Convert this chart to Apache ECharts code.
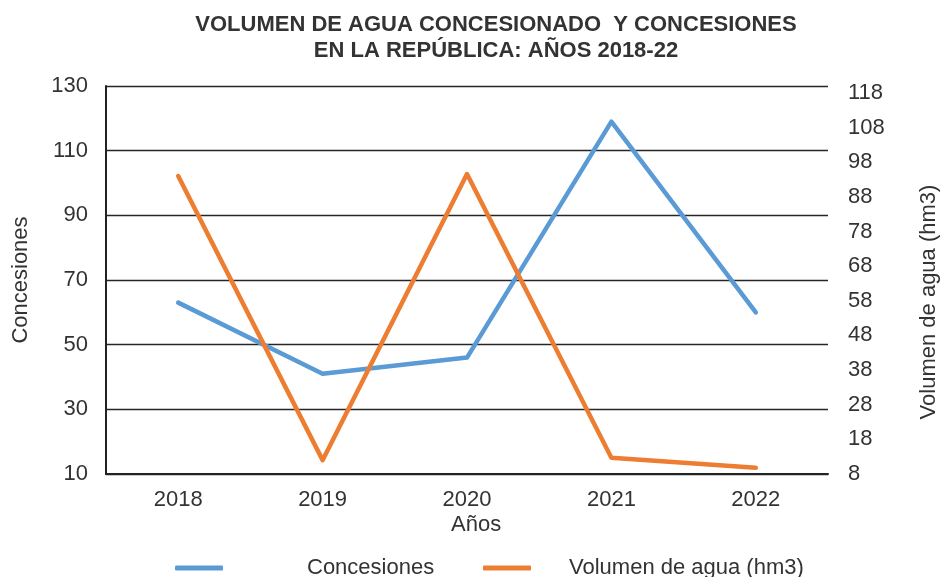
<!DOCTYPE html>
<html>
<head>
<meta charset="utf-8">
<script src="https://cdn.jsdelivr.net/npm/echarts@6/dist/echarts.min.js"></script>
<style>
  html, body { margin: 0; padding: 0; background: #fff; }
  #chart { width: 940px; height: 577px; }
</style>
</head>
<body>
<div id="chart"></div>
<script>
// Years on the category axis
const years = ['2018', '2019', '2020', '2021', '2022'];
// Number of water concessions (left axis)
const concesiones = [63, 41, 46, 119, 60];
// Granted water volume in hm3 (right axis)
const volumen = [94, 12, 94.6, 12.7, 9.8];
// Tick labels for both value axes
const leftTicks = [10, 30, 50, 70, 90, 110, 130];
const rightTicks = [8, 18, 28, 38, 48, 58, 68, 78, 88, 98, 108, 118];

const FONT = '"Liberation Sans", Arial, sans-serif';
const TXT = '#333333';
const FS = 22;

const chart = echarts.init(document.getElementById('chart'), null, { renderer: 'canvas' });

chart.setOption({
  animation: false,
  backgroundColor: '#ffffff',
  title: {
    text: 'VOLUMEN DE AGUA CONCESIONADO  Y CONCESIONES\nEN LA REPÚBLICA: AÑOS 2018-22',
    left: 491,
    top: 7,
    textAlign: 'center',
    textStyle: {
      fontFamily: FONT,
      fontSize: 22,
      fontWeight: 'bold',
      color: TXT,
      lineHeight: 26
    }
  },
  legend: [
    {
      left: 175,
      top: 557,
      padding: 0,
      itemWidth: 48,
      itemHeight: 5,
      itemGap: 0,
      icon: 'roundRect',
      data: ['Concesiones'],
      textStyle: { fontFamily: FONT, fontSize: FS, color: TXT, padding: [0, 0, 0, 79] }
    },
    {
      left: 483,
      top: 557,
      padding: 0,
      itemWidth: 48,
      itemHeight: 5,
      itemGap: 0,
      icon: 'roundRect',
      data: ['Volumen de agua (hm3)'],
      textStyle: { fontFamily: FONT, fontSize: FS, color: TXT, padding: [0, 0, 0, 33] }
    }
  ],
  grid: { left: 106, right: 112, top: 86, bottom: 103, containLabel: false, outerBoundsMode: 'none' },
  xAxis: {
    type: 'category',
    data: years,
    boundaryGap: true,
    axisLine: { show: true, lineStyle: { color: '#222', width: 2 } },
    axisTick: { show: false },
    axisLabel: { fontFamily: FONT, fontSize: FS, color: TXT, margin: 15 }
  },
  yAxis: [
    {
      type: 'value',
      min: 10,
      max: 130,
      name: 'Concesiones',
      nameLocation: 'middle',
      nameGap: 74,
      nameRotate: 90,
      nameTextStyle: { fontFamily: FONT, fontSize: FS, color: TXT },
      axisLine: { show: true, lineStyle: { color: '#222', width: 2 } },
      axisTick: { show: false, customValues: leftTicks },
      axisLabel: { customValues: leftTicks, fontFamily: FONT, fontSize: FS, color: TXT, margin: 18 },
      splitLine: { show: true, lineStyle: { color: '#262626', width: 1.3 } }
    },
    {
      type: 'value',
      min: 8,
      max: 120,
      position: 'right',
      name: 'Volumen de agua (hm3)',
      nameLocation: 'middle',
      nameGap: 90,
      nameRotate: 90,
      nameTextStyle: { fontFamily: FONT, fontSize: FS, color: TXT, padding: [0, 44, 0, 0] },
      axisLine: { show: false },
      axisTick: { show: false, customValues: rightTicks },
      axisLabel: { customValues: rightTicks, fontFamily: FONT, fontSize: FS, color: TXT, margin: 20 },
      splitLine: { show: false }
    }
  ],
  graphic: [
    {
      type: 'text',
      left: 451,
      top: 514,
      style: {
        text: 'Años',
        fontFamily: FONT,
        fontSize: FS,
        fill: TXT,
        textAlign: 'center'
      }
    }
  ],
  series: [
    {
      name: 'Concesiones',
      type: 'line',
      yAxisIndex: 0,
      data: concesiones,
      symbol: 'none',
      color: '#5B9BD5',
      lineStyle: { width: 4.5, color: '#5B9BD5', cap: 'round', join: 'round' }
    },
    {
      name: 'Volumen de agua (hm3)',
      type: 'line',
      yAxisIndex: 1,
      data: volumen,
      symbol: 'none',
      color: '#ED7D31',
      lineStyle: { width: 4.5, color: '#ED7D31', cap: 'round', join: 'round' }
    }
  ]
});
</script>
</body>
</html>
